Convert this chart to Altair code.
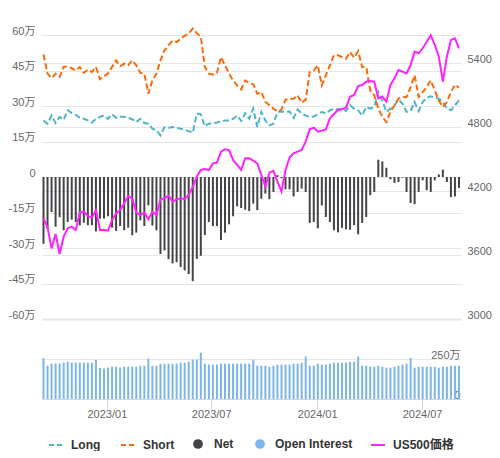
import altair as alt
import pandas as pd

FONT = "Liberation Sans, Arial, Noto Sans CJK JP, sans-serif"

dates = pd.date_range("2022-09-13", periods=104, freq="7D").strftime("%Y-%m-%d").tolist()

# values in 万 (10,000 contracts)
long_pos = [
    23.9, 22.5, 26.0, 22.8, 25.4, 24.2, 28.2, 27.0, 26.3, 25.0, 24.6, 23.9, 23.0, 24.6, 25.4, 26.0, 24.6, 26.5, 25.0, 25.6, 25.4, 25.0, 24.4, 23.2, 24.6, 22.8, 22.5,
    20.4, 19.7, 17.6, 21.1, 20.8, 21.1, 20.8, 20.4, 20.0, 19.4, 18.7, 26.8, 26.5, 21.4, 22.5, 22.8, 23.0, 23.5, 23.9, 23.9, 24.6, 26.0, 23.7, 27.0, 24.6, 28.9,
    21.1, 27.5, 23.9, 21.8, 22.5, 27.5, 27.7, 27.5, 27.7, 25.0, 28.5, 26.8, 26.0, 25.4, 25.6, 26.5, 27.5, 26.8, 28.2, 28.9, 28.5, 28.9, 27.9, 30.3, 28.9,
    28.2, 26.0, 29.6, 28.9, 29.6, 35.9, 32.4, 27.5, 28.9, 30.3, 32.7, 31.0, 27.5, 27.9, 31.7, 27.9, 31.7, 33.5, 34.1, 33.5, 33.1, 31.7, 28.9, 28.2, 30.3, 32.4,
]
short_pos = [
    51.8, 43.7, 41.8, 43.7, 42.3, 46.5, 46.8, 46.0, 45.0, 46.5, 44.0, 45.4, 44.4, 46.5, 41.3, 42.5, 43.7, 46.5, 49.3, 46.8, 47.9, 47.2, 49.3, 47.2, 44.0, 43.7, 35.2,
    40.8, 43.7, 49.3, 53.5, 55.6, 57.7, 57.0, 58.5, 59.6, 60.6, 62.7, 60.8, 59.2, 46.5, 43.7, 43.2, 44.0, 50.7, 47.2, 43.7, 40.8, 38.7, 37.0, 40.8, 39.7, 39.2,
    35.2, 35.9, 31.7, 30.3, 28.9, 27.7, 28.5, 32.7, 33.1, 33.1, 34.5, 31.3, 32.7, 44.4, 45.0, 47.2, 38.7, 43.0, 47.2, 51.4, 51.4, 50.7, 50.0, 52.8, 50.4,
    53.2, 46.5, 46.5, 36.6, 34.5, 28.9, 25.4, 23.2, 27.5, 30.3, 33.1, 33.8, 33.8, 38.0, 43.0, 33.8, 35.9, 38.0, 40.8, 36.6, 32.4, 29.6, 31.7, 35.9, 39.0, 37.7,
]
net_pos = [
    -28.2, -21.8, -14.8, -21.0, -17.0, -22.5, -19.0, -18.0, -19.0, -20.4, -19.3, -20.4, -20.4, -23.0, -17.6, -17.6, -16.6, -21.4, -22.8, -20.7, -22.5, -21.4, -24.6, -23.5, -18.3, -20.7, -12.0,
    -20.5, -22.5, -32.5, -31.0, -34.7, -36.5, -36.0, -38.0, -39.5, -41.0, -44.0, -34.6, -33.3, -24.5, -19.0, -20.7, -20.7, -26.6, -23.5, -20.0, -16.6, -12.4, -13.1, -13.8, -14.4, -11.2,
    -14.0, -9.2, -7.0, -9.4, -6.3, 0.8, -0.5, -5.2, -5.2, -8.2, -6.3, -4.9, -6.3, -19.4, -19.0, -21.7, -12.0, -16.9, -19.0, -22.5, -23.4, -21.5, -22.1, -22.3, -20.3,
    -24.2, -19.4, -16.9, -7.7, -6.3, 7.3, 6.6, 3.9, -1.0, -2.5, -2.1, -0.3, -6.3, -11.0, -11.5, -6.3, -1.4, -5.6, -6.3, -1.4, 1.1, 3.1, -2.1, -8.5, -8.2, -4.6,
]
open_interest = [
    256, 208, 221, 221, 221, 227, 233, 227, 227, 227, 227, 227, 227,
    244, 194, 190, 196, 202, 202, 196, 202, 202, 202, 202, 208, 208,
    252, 208, 208, 221, 221, 221, 221, 221, 227, 227, 233, 246, 246,
    290, 221, 215, 215, 215, 221, 221, 221, 221, 221, 221, 221, 221,
    246, 208, 208, 208, 202, 208, 215, 215, 215, 215, 221, 221, 227,
    265, 208, 208, 221, 215, 215, 221, 227, 227, 227, 227, 233, 233,
    265, 208, 208, 202, 202, 208, 202, 196, 196, 202, 208, 215, 221,
    256, 196, 202, 202, 202, 202, 202, 196, 202, 202, 208, 208, 208,
]
us500 = [
    3944, 3859, 3662, 3797, 3609, 3772, 3850, 3866, 3834, 3997, 4006, 3966, 3950, 4022, 3834, 3834, 3828, 3928, 3991, 4022, 4084, 4153, 4131, 3997, 3975, 3997, 3935,
    4006, 3975, 4122, 4131, 4156, 4100, 4122, 4131, 4125, 4162, 4240, 4334, 4397, 4406, 4397, 4459, 4466, 4569, 4591, 4584, 4491, 4444, 4397, 4506, 4506, 4485,
    4459, 4350, 4241, 4372, 4388, 4288, 4194, 4397, 4513, 4553, 4569, 4584, 4663, 4778, 4794, 4756, 4766, 4778, 4881, 4922, 4959, 4966, 4981, 5084, 5100,
    5184, 5194, 5225, 5231, 5225, 5069, 5084, 5038, 5194, 5256, 5334, 5319, 5303, 5381, 5506, 5491, 5538, 5600, 5660, 5569, 5459, 5225, 5459, 5616, 5631, 5538,
]

pos_names = ["Long", "Short"]
pos_colors = ["#4db5c9", "#fb6a0a"]
net_name, net_color = "Net", "#434348"
oi_name, oi_color = "Open Interest", "#7cb5ec"
price_name, price_color = "US500価格", "#ff22ff"

lines_df = pd.DataFrame({
    "date": dates * 2,
    "value": long_pos + short_pos,
    "series": [pos_names[0]] * len(dates) + [pos_names[1]] * len(dates),
})
net_df = pd.DataFrame({"date": dates, "value": net_pos, "series": net_name})
oi_df = pd.DataFrame({"date": dates, "value": open_interest, "series": oi_name})
price_df = pd.DataFrame({"date": dates, "value": us500, "series": price_name})

LEG = dict(title=None, orient="none", direction="horizontal", labelFont=FONT,
           labelFontSize=12, labelFontWeight="bold", labelColor="#333333", padding=0)

leg_pos = alt.Legend(legendX=6, legendY=402, symbolType="stroke", symbolSize=196,
                     symbolStrokeWidth=2, symbolDash=[5, 3], columnPadding=16,
                     labelOffset=7, **LEG)
leg_net = alt.Legend(legendX=150, legendY=403, symbolType="circle", symbolSize=95,
                     symbolStrokeWidth=0, labelOffset=10, **LEG)
leg_oi = alt.Legend(legendX=212, legendY=403, symbolType="circle", symbolSize=95,
                    symbolStrokeWidth=0, labelOffset=9, **LEG)
leg_price = alt.Legend(legendX=328, legendY=402, symbolType="stroke", symbolSize=196,
                       symbolStrokeWidth=2, labelOffset=7, **LEG)

x_axis = alt.Axis(
    values=[alt.DateTime(year=2023, month=1, date=1, utc=True),
            alt.DateTime(year=2023, month=7, date=1, utc=True),
            alt.DateTime(year=2024, month=1, date=1, utc=True),
            alt.DateTime(year=2024, month=7, date=1, utc=True)],
    labelExpr="utcFormat(datum.value, '%Y/%m')",
    grid=False, domainColor="#ccd6eb", tickColor="#ccd6eb", tickSize=10,
    labelPadding=-1, labelFontSize=11, labelColor="#666666", labelFont=FONT, title=None,
)
x_enc = alt.X(
    "date:T",
    scale=alt.Scale(type="utc", nice=False, padding=0,
                    domain=[alt.DateTime(year=2022, month=9, date=10, hours=10, utc=True),
                            alt.DateTime(year=2024, month=9, date=6, hours=12, utc=True)]),
    axis=x_axis, title=None,
)

left_axis = alt.Axis(
    orient="left", values=[-60, -45, -30, -15, 0, 15, 30, 45, 60],
    labelExpr="datum.value == 0 ? '0' : datum.value + '万'",
    grid=True, gridColor="#e6e6e6",
    gridWidth={"condition": {"test": "datum.value == -60", "value": 2}, "value": 1},
    ticks=False, tickSize=0, domain=False, labelPadding=7,
    labelBaseline="alphabetic", labelOffset=-1,
    labelFontSize=11, labelColor="#666666", labelFont=FONT, title=None,
)
left_scale = alt.Scale(domain=[-93.8, 60], nice=False)

price_axis = alt.Axis(
    orient="right", values=[3000, 3600, 4200, 4800, 5400], format="d",
    grid=True, gridColor="#e6e6e6", ticks=False, tickSize=0, domain=False,
    labelPadding=6, labelBaseline="alphabetic", labelOffset=-1,
    labelFontSize=11, labelColor="#666666", labelFont=FONT, title=None,
)
oi_axis = alt.Axis(
    orient="right", values=[0, 250],
    labelExpr="datum.value == 0 ? '0' : datum.value + '万'",
    grid=True, gridColor="#e6e6e6", ticks=False, tickSize=0, domain=False,
    labelAlign="right", labelPadding=-1, labelBaseline="alphabetic", labelOffset=-1,
    labelFontSize=11, labelColor="#666666", labelFont=FONT, title=None,
)

oi_layer = alt.Chart(oi_df).mark_bar(width=2).encode(
    x=x_enc,
    y=alt.Y("value:Q", scale=alt.Scale(domain=[0, 2275], nice=False), axis=oi_axis, title=None),
    color=alt.Color("series:N", scale=alt.Scale(domain=[oi_name], range=[oi_color]), legend=leg_oi),
)
net_layer = alt.Chart(net_df).mark_bar(width=2).encode(
    x=x_enc,
    y=alt.Y("value:Q", scale=left_scale, axis=left_axis, title=None),
    color=alt.Color("series:N", scale=alt.Scale(domain=[net_name], range=[net_color]), legend=leg_net),
)
pos_layer = alt.Chart(lines_df).mark_line(strokeWidth=2, strokeDash=[6, 3]).encode(
    x=x_enc,
    y=alt.Y("value:Q", scale=left_scale, axis=left_axis, title=None),
    color=alt.Color("series:N", scale=alt.Scale(domain=pos_names, range=pos_colors), legend=leg_pos),
)
price_layer = alt.Chart(price_df).mark_line(strokeWidth=2).encode(
    x=x_enc,
    y=alt.Y("value:Q", scale=alt.Scale(domain=[2250, 5662.5], nice=False, zero=False),
            axis=price_axis, title=None),
    color=alt.Color("series:N", scale=alt.Scale(domain=[price_name], range=[price_color]), legend=leg_price),
)

chart = alt.layer(
    oi_layer,
    alt.layer(net_layer, pos_layer).resolve_scale(color="independent"),
    price_layer,
).resolve_scale(y="independent", color="independent").properties(
    width=419, height=364,
    padding={"left": 0, "top": 16, "right": 0, "bottom": 0},
).configure_view(stroke=None)

chart.save("out.html", embed_options={"renderer": "svg", "actions": False})
